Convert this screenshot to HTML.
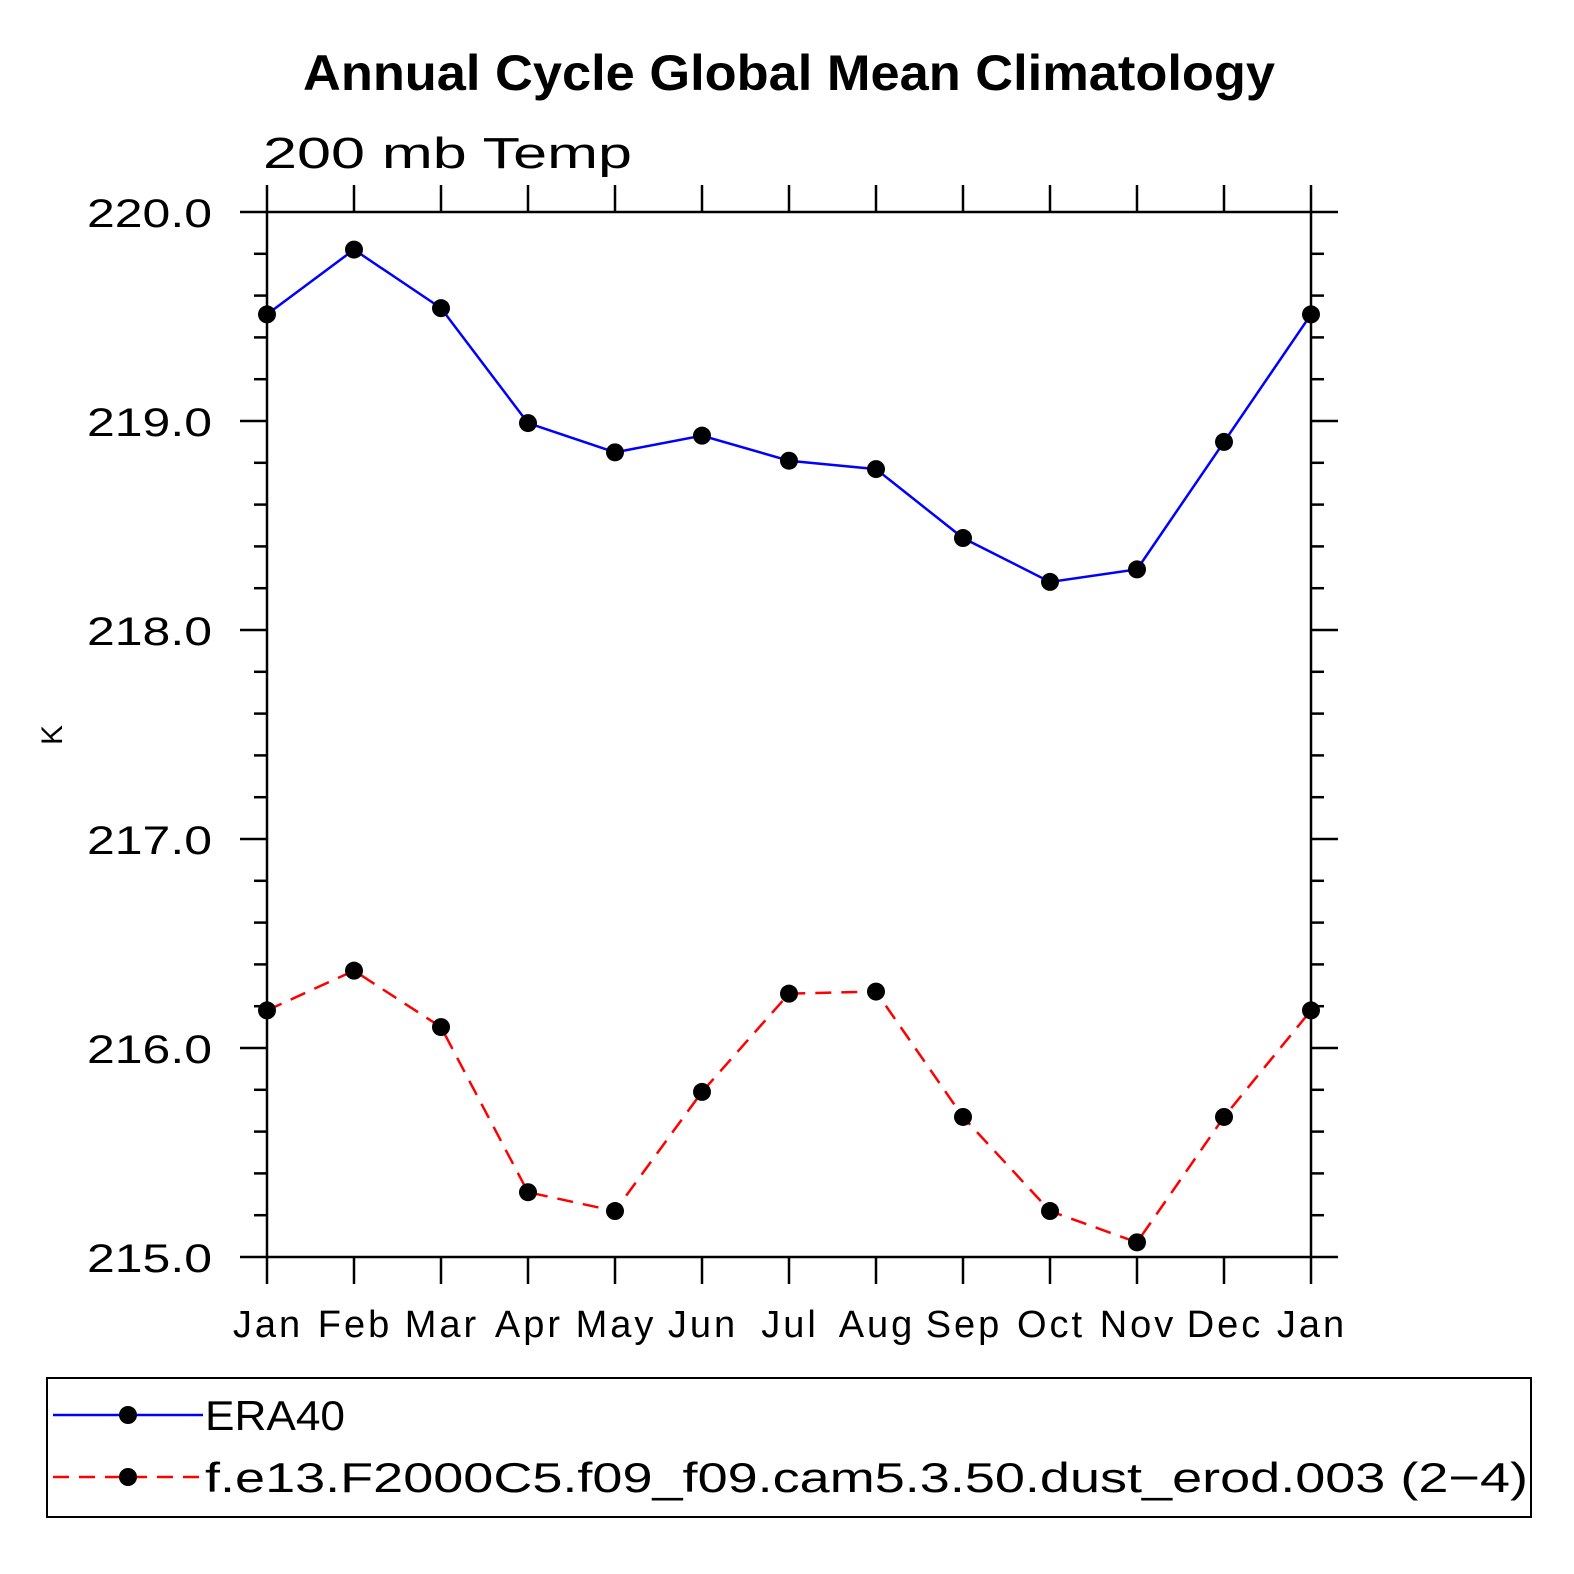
<!DOCTYPE html>
<html><head><meta charset="utf-8"><style>
html,body{margin:0;padding:0;background:#fff;}
svg{display:block;}
text{font-family:"Liberation Sans",sans-serif;fill:#000;}
.tk{font-size:38px;letter-spacing:3px;}
</style></head><body>
<svg id="chart" width="1574" height="1574" viewBox="0 0 1574 1574" xmlns="http://www.w3.org/2000/svg">
<text x="303" y="90" font-size="50" font-weight="bold" textLength="972" lengthAdjust="spacingAndGlyphs">Annual Cycle Global Mean Climatology</text>
<text x="263" y="168" font-size="44" textLength="369" lengthAdjust="spacingAndGlyphs">200 mb Temp</text>
<text transform="translate(62,735) rotate(-90)" text-anchor="middle" font-size="30">K</text>
<rect x="267" y="212" width="1044" height="1045" fill="none" stroke="#000" stroke-width="2.5"/>
<g id="axes"></g>
<g id="series"></g>
<g>
<rect x="47" y="1378" width="1484" height="139" fill="none" stroke="#000" stroke-width="2"/>
<line x1="53" y1="1415" x2="203" y2="1415" stroke="#0000ff" stroke-width="2.5"/>
<circle cx="128" cy="1415" r="9"/>
<text x="205" y="1430" font-size="42" textLength="140" lengthAdjust="spacingAndGlyphs">ERA40</text>
<line x1="53" y1="1477" x2="203" y2="1477" stroke="#ff0000" stroke-width="2.5" stroke-dasharray="16,10"/>
<circle cx="128" cy="1477" r="9"/>
<text x="205" y="1492" font-size="42" textLength="1323" lengthAdjust="spacingAndGlyphs">f.e13.F2000C5.f09_f09.cam5.3.50.dust_erod.003 (2−4)</text>
</g>
</svg>
<script>
const months = ["Jan","Feb","Mar","Apr","May","Jun","Jul","Aug","Sep","Oct","Nov","Dec","Jan"];
const era40 = [219.51,219.82,219.54,218.99,218.85,218.93,218.81,218.77,218.44,218.23,218.29,218.90,219.51];
const model = [216.18,216.37,216.10,215.31,215.22,215.79,216.26,216.27,215.67,215.22,215.07,215.67,216.18];
const yTickLabels = ["215.0","216.0","217.0","218.0","219.0","220.0"];
const yMin = 215, yMax = 220;
const X0=267, X1=1311, Y0=1257, Y1=212;
const NS="http://www.w3.org/2000/svg";
function xs(i){return X0+(X1-X0)*i/(months.length-1);}
function ys(v){return Y0-(Y0-Y1)*(v-yMin)/(yMax-yMin);}
function mk(tag,attrs,parent){const e=document.createElementNS(NS,tag);for(const k in attrs)e.setAttribute(k,attrs[k]);parent.appendChild(e);return e;}
const ax=document.getElementById('axes');
months.forEach((m,i)=>{
  const x=xs(i);
  const b=mk('line',{x1:x,y1:Y0,x2:x,y2:Y0+27,stroke:'#000','stroke-width':2.5},ax);
  
  
  const t=mk('line',{x1:x,y1:Y1,x2:x,y2:Y1-27,stroke:'#000','stroke-width':2.5},ax);
  
  
  const l=mk('text',{x:x+1,y:1337,'text-anchor':'middle','class':'tk'},ax);
  l.textContent=m;
  
  
});
for(let k=0;k<=25;k++){
  const v=yMin+k*0.2, y=ys(v), major=(k%5===0);
  const L=major?27:13;
  const a=mk('line',{x1:X0,y1:y,x2:X0-L,y2:y,stroke:'#000','stroke-width':2.5},ax);
  
  
  const r=mk('line',{x1:X1,y1:y,x2:X1+L,y2:y,stroke:'#000','stroke-width':2.5},ax);
  
  
}
yTickLabels.forEach((s,i)=>{
  const l=mk('text',{x:87,y:ys(yMin+i)+15,'font-size':40,textLength:125,lengthAdjust:'spacingAndGlyphs'},ax);
  l.textContent=s;
  
  
});
const sg=document.getElementById('series');
function drawSeries(vals,color,dash,name){
  const p=mk('polyline',{points:vals.map((v,i)=>xs(i)+','+ys(v)).join(' '),fill:'none',stroke:color,'stroke-width':2.5},sg);
  if(dash)p.setAttribute('stroke-dasharray',dash);
  
  
  vals.forEach((v,i)=>{
    const c=mk('circle',{cx:xs(i),cy:ys(v),r:9,fill:'#000'},sg);
    
    
  });
}
drawSeries(era40,'#0000ff',null,'era40');
drawSeries(model,'#ff0000','16,10','model');
</script>
</body></html>
